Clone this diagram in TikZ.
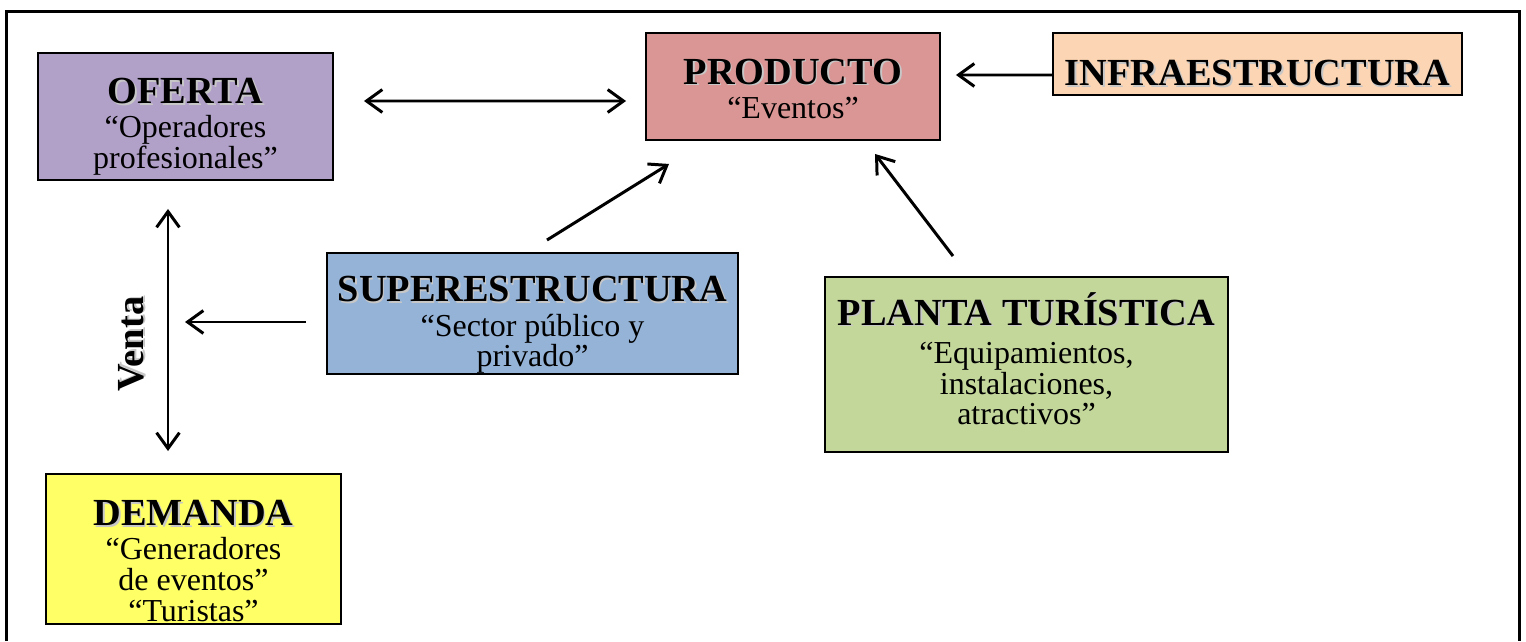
\documentclass[tikz,border=0pt]{standalone}
\usepackage{fontspec}
\setmainfont{Liberation Serif}
\usetikzlibrary{arrows.meta}

\definecolor{colOferta}{HTML}{B1A0C7}
\definecolor{colProducto}{HTML}{DA9694}
\definecolor{colInfra}{HTML}{FCD5B4}
\definecolor{colSuper}{HTML}{95B3D7}
\definecolor{colPlanta}{HTML}{C4D79B}
\definecolor{colDemanda}{HTML}{FFFF66}

\newcommand{\titfont}{\fontsize{21.8}{22}\selectfont\bfseries}
\newcommand{\titulo}[1]{{\titfont\makebox[0pt][l]{\hspace{0.9pt}\raisebox{-0.9pt}{\color{black!22}#1}}#1}}

\tikzset{
  caja/.style={draw=black, line width=1.1pt, align=center, inner sep=0pt,
    font=\fontsize{18.2}{17.5}\selectfont},
  flecha/.style={line width=1.7pt, -{Straight Barb[length=9pt,width=13pt]}},
  doble/.style={line width=1.7pt, {Straight Barb[length=9pt,width=13pt]}-{Straight Barb[length=9pt,width=13pt]}},
}

\begin{document}
\begin{tikzpicture}
        \useasboundingbox (0,0) rectangle (30.52,-12.82);
        % Marco
        \draw[line width=1.7pt] (0.13,-12.82) -- (0.13,-0.23) -- (30.39,-0.23) -- (30.39,-12.82);

        % Cajas
        \node[caja, fill=colOferta, minimum width=5.9cm, minimum height=2.54cm] (oferta) at (3.71,-2.33)
            {\rule{0pt}{26pt}\titulo{OFERTA}\\[2pt]“Operadores\\profesionales”};
        \node[caja, fill=colProducto, minimum width=5.88cm, minimum height=2.14cm] (producto) at (15.86,-1.73)
            {\rule{0pt}{17pt}\titulo{PRODUCTO}\\[2pt]“Eventos”};
        \node[caja, fill=colInfra, minimum width=8.18cm, minimum height=1.24cm] (infra) at (25.15,-1.28)
            {\rule{0pt}{26pt}\titulo{INFRAESTRUCTURA}};
        \node[caja, fill=colSuper, minimum width=8.22cm, minimum height=2.42cm] (super) at (10.65,-6.27)
            {\rule{0pt}{27.5pt}\titulo{SUPERESTRUCTURA}\\[2pt]“Sector público y\\privado”};
        \node[caja, fill=colPlanta, minimum width=8.06cm, minimum height=3.5cm] (planta) at (20.53,-7.29)
            {\titulo{PLANTA TURÍSTICA}\\[4.2pt]“Equipamientos,\\instalaciones,\\atractivos”\rule[-6.8pt]{0pt}{0pt}};
        \node[caja, fill=colDemanda, minimum width=5.9cm, minimum height=3.0cm] (demanda) at (3.87,-10.98)
            {\rule{0pt}{28pt}\titulo{DEMANDA}\\[2pt]“Generadores\\de eventos”\\“Turistas”};

        \node[rotate=90] (venta) at (2.64,-6.88) {\titulo{Venta}};
        \coordinate (cruce) at (3.7,-6.44);

        % Flechas
        \draw[doble] ([xshift=0.6cm,yshift=0.31cm]oferta.east) -- ([xshift=-0.38cm,yshift=-0.29cm]producto.west);
        \draw[flecha] ([yshift=-0.22cm]infra.west) -- ([xshift=0.3cm,yshift=0.23cm]producto.east);
        \draw[flecha] ([xshift=0.29cm,yshift=0.24cm]super.north) -- ([xshift=-2.48cm,yshift=-0.46cm]producto.south);
        \draw[flecha] ([xshift=-1.47cm,yshift=0.4cm]planta.north) -- ([xshift=1.64cm,yshift=-0.26cm]producto.south);
        \draw[doble] ([xshift=-0.35cm,yshift=-0.56cm]oferta.south) -- ([xshift=-0.51cm,yshift=0.44cm]demanda.north);
        \draw[flecha] ([xshift=-0.4cm,yshift=-0.17cm]super.west) -- (cruce);
\end{tikzpicture}
\end{document}
